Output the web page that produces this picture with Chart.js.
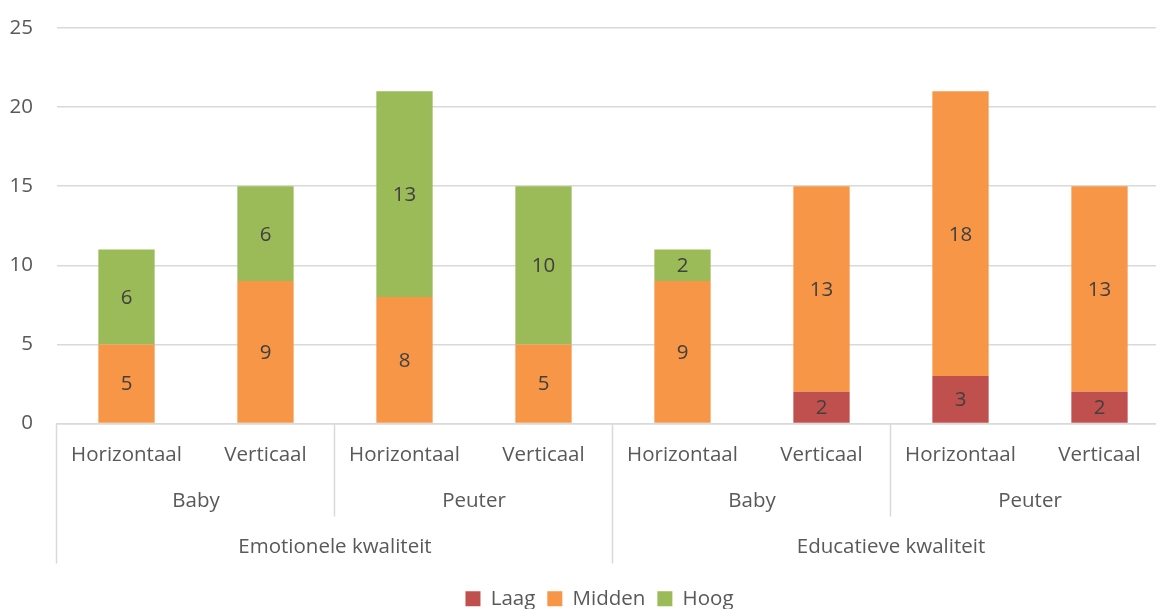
<!DOCTYPE html>
<html>
<head>
<meta charset="utf-8">
<script src="https://cdn.jsdelivr.net/npm/chart.js@4"></script>
<style>
html,body{margin:0;padding:0;background:#fff;overflow:hidden;}
#wrap{width:1156px;height:609px;position:relative;overflow:hidden;}
</style>
</head>
<body>
<div id="wrap"><canvas id="c" width="1169" height="625"></canvas></div>
<script>
const categories = ["Horizontaal","Verticaal","Horizontaal","Verticaal","Horizontaal","Verticaal","Horizontaal","Verticaal"];
const subGroups = ["Baby","Peuter","Baby","Peuter"];
const mainGroups = ["Emotionele kwaliteit","Educatieve kwaliteit"];
const laag = [0,0,0,0,0,2,3,2];
const midden = [5,9,8,5,9,13,18,13];
const hoog = [6,6,13,10,2,0,0,0];
const yTicks = [0,5,10,15,20,25];

const FONT = "'Open Sans', sans-serif";
const FS = 20.5;
const TXT = "#595959";
const LINE = "#d9d9d9";

const dataLabels = {
  id: "dataLabels",
  afterDatasetsDraw(chart) {
    const ctx = chart.ctx;
    ctx.save();
    ctx.font = FS + "px " + FONT;
    ctx.fillStyle = "#404040";
    ctx.textAlign = "center";
    ctx.textBaseline = "middle";
    chart.data.datasets.forEach((ds, i) => {
      const meta = chart.getDatasetMeta(i);
      meta.data.forEach((el, j) => {
        const v = ds.data[j];
        if (!v) return;
        ctx.fillText(String(v), el.x, (el.y + el.base) / 2 + 1);
      });
    });
    ctx.restore();
  }
};

const multiLevel = {
  id: "multiLevel",
  afterLayout(chart) {
    if (chart.legend) {
      chart.legend.left += 15;
      chart.legend.right += 15;
    }
  },
  afterDraw(chart) {
    const ctx = chart.ctx;
    const a = chart.chartArea;
    const n = categories.length;
    const w = (a.right - a.left) / n;
    const top = a.bottom;
    const subBottom = top + 93;
    const mainBottom = top + 140;
    const subY = top + 78;
    const mainY = top + 124;
    ctx.save();
    ctx.strokeStyle = LINE;
    ctx.lineWidth = 1.5;
    for (let k = 0; k <= n; k += 2) {
      const x = Math.round(a.left + k * w) - 0.5;
      const isMain = (k % 4 === 0);
      ctx.beginPath();
      ctx.moveTo(x, top);
      ctx.lineTo(x, isMain ? mainBottom : subBottom);
      ctx.stroke();
    }
    ctx.font = FS + "px " + FONT;
    ctx.fillStyle = TXT;
    ctx.textAlign = "center";
    ctx.textBaseline = "middle";
    subGroups.forEach((g, i) => {
      ctx.fillText(g, a.left + (i * 2 + 1) * w, subY);
    });
    mainGroups.forEach((g, i) => {
      ctx.fillText(g, a.left + (i * 4 + 2) * w, mainY);
    });
    ctx.restore();
  }
};

new Chart(document.getElementById("c"), {
  type: "bar",
  data: {
    labels: categories,
    datasets: [
      { label: "Laag", data: laag, backgroundColor: "#C0504D" },
      { label: "Midden", data: midden, backgroundColor: "#F79646" },
      { label: "Hoog", data: hoog, backgroundColor: "#9BBB59" }
    ]
  },
  options: {
    responsive: false,
    animation: false,
    layout: { padding: { top: 28, right: 0, left: 0, bottom: 6 } },
    datasets: { bar: { categoryPercentage: 1, barPercentage: 0.405 } },
    scales: {
      x: {
        stacked: true,
        grid: { display: false, drawTicks: false },
        border: { display: true, color: LINE, width: 1.5 },
        ticks: { color: TXT, font: { family: FONT, size: FS }, padding: 19, maxRotation: 0 },
        afterFit(s) { s.height = 153; s.paddingLeft = 0; s.paddingRight = 0; }
      },
      y: {
        stacked: true,
        min: 0, max: 25,
        afterBuildTicks(s) { s.ticks = yTicks.map(v => ({ value: v })); },
        grid: { color: LINE, lineWidth: 1.5, drawTicks: false },
        border: { display: false },
        ticks: { color: TXT, font: { family: FONT, size: FS }, padding: 24 },
        afterFit(s) { s.width = 57; s.paddingTop = 0; s.paddingBottom = 0; }
      }
    },
    plugins: {
      legend: {
        position: "bottom",
        labels: { color: TXT, font: { family: FONT, size: FS }, boxWidth: 15, boxHeight: 15, padding: 12 }
      },
      tooltip: { enabled: false }
    }
  },
  plugins: [dataLabels, multiLevel]
});
</script>
</body>
</html>
